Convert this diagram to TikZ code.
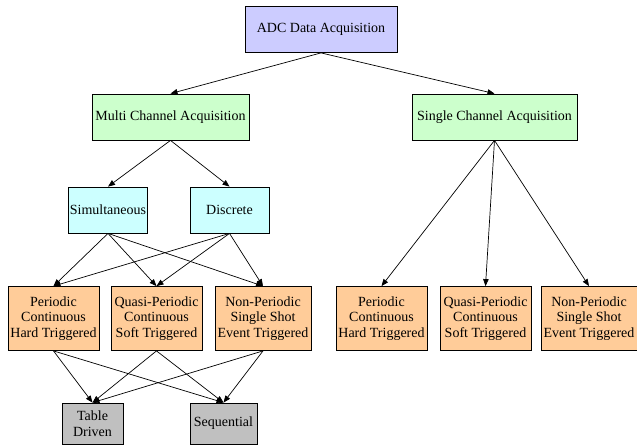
\documentclass[tikz,border=0pt]{standalone}
\usepackage{fontspec}
\setmainfont{Liberation Serif}
\usepackage{tikz}
\usetikzlibrary{shapes,arrows.meta}
\definecolor{adcblue}{RGB}{204,204,255}
\definecolor{modegreen}{RGB}{204,255,204}
\definecolor{typecyan}{RGB}{204,255,255}
\definecolor{trigpeach}{RGB}{255,204,153}
\definecolor{seqgray}{RGB}{192,192,192}
\tikzstyle{acqblock} = [rectangle, draw, line width=0.8pt, align=center,
    text centered, inner sep=1pt, minimum height=46pt]
\tikzstyle{trigblock} = [acqblock, fill=trigpeach, minimum width=91pt, minimum height=64pt]
\tikzstyle{endblock} = [acqblock, fill=seqgray, minimum height=41pt]

\begin{document}
\begin{tikzpicture}[node distance = 2cm, >={Triangle[length=7pt,width=5.5pt]},
    font=\fontsize{14}{15.7}\selectfont]
    \useasboundingbox (0,0) rectangle (637pt,-445pt);
    \node [acqblock, fill=adcblue, minimum width=152pt] (adc) at (321pt,-29.5pt) {ADC Data Acquisition};
    \node [acqblock, fill=modegreen, minimum width=157pt, below of=adc, node distance=87.5pt, xshift=-150.5pt] (multi) {Multi Channel Acquisition};
    \node [acqblock, fill=modegreen, minimum width=165pt, right of=multi, node distance=324pt] (single) {Single Channel Acquisition};
    \node [acqblock, fill=typecyan, minimum width=78pt, below of=multi, node distance=93pt, xshift=-62.5pt] (sim) {Simultaneous};
    \node [acqblock, fill=typecyan, minimum width=79pt, right of=sim, node distance=121.5pt] (disc) {Discrete};
    % multi channel triggers
    \node [trigblock, below of=sim, node distance=108.5pt, xshift=-54.5pt] (mper) {Periodic\\Continuous\\Hard Triggered};
    \node [trigblock, right of=mper, node distance=103pt] (mquasi) {Quasi-Periodic\\Continuous\\Soft Triggered};
    \node [trigblock, right of=mquasi, node distance=106.5pt, minimum width=96pt] (mnon) {Non-Periodic\\Single Shot\\Event Triggered};
    % single channel triggers
    \node [trigblock, below of=single, node distance=201.5pt, xshift=-113pt] (sper) {Periodic\\Continuous\\Hard Triggered};
    \node [trigblock, right of=sper, node distance=104pt] (squasi) {Quasi-Periodic\\Continuous\\Soft Triggered};
    \node [trigblock, right of=squasi, node distance=103.5pt, minimum width=96pt] (snon) {Non-Periodic\\Single Shot\\Event Triggered};
    \node [endblock, minimum width=61pt, below of=mper, node distance=105pt, xshift=39pt] (table) {Table\\Driven};
    \node [endblock, minimum width=67pt, right of=table, node distance=131pt] (seq) {Sequential};
    % Draw edges
    \draw [->, line width=0.7pt] (adc.south) -- (multi.north);
    \draw [->, line width=0.7pt] (adc.south) -- (single.north);
    \draw [->, line width=0.7pt] (multi.south) -- (sim.north);
    \draw [->, line width=0.7pt] (multi.south) -- (disc.north);
    \draw [->, line width=0.7pt] (single.south) -- (sper.north);
    \draw [->, line width=0.7pt] (single.south) -- (squasi.north);
    \draw [->, line width=0.7pt] (single.south) -- (snon.north);
    \draw [->, line width=0.7pt] (sim.south) -- (mper.north);
    \draw [->, line width=0.7pt] (sim.south) -- (mquasi.north);
    \draw [->, line width=0.7pt] (sim.south) -- (mnon.north);
    \draw [->, line width=0.7pt] (disc.south) -- (mper.north);
    \draw [->, line width=0.7pt] (disc.south) -- (mquasi.north);
    \draw [->, line width=0.7pt] (disc.south) -- (mnon.north);
    \draw [->, line width=0.7pt] (mper.south) -- (table.north);
    \draw [->, line width=0.7pt] (mper.south) -- (seq.north);
    \draw [->, line width=0.7pt] (mquasi.south) -- (table.north);
    \draw [->, line width=0.7pt] (mquasi.south) -- (seq.north);
    \draw [->, line width=0.7pt] (mnon.south) -- (table.north);
    \draw [->, line width=0.7pt] (mnon.south) -- (seq.north);
\end{tikzpicture}
\end{document}
